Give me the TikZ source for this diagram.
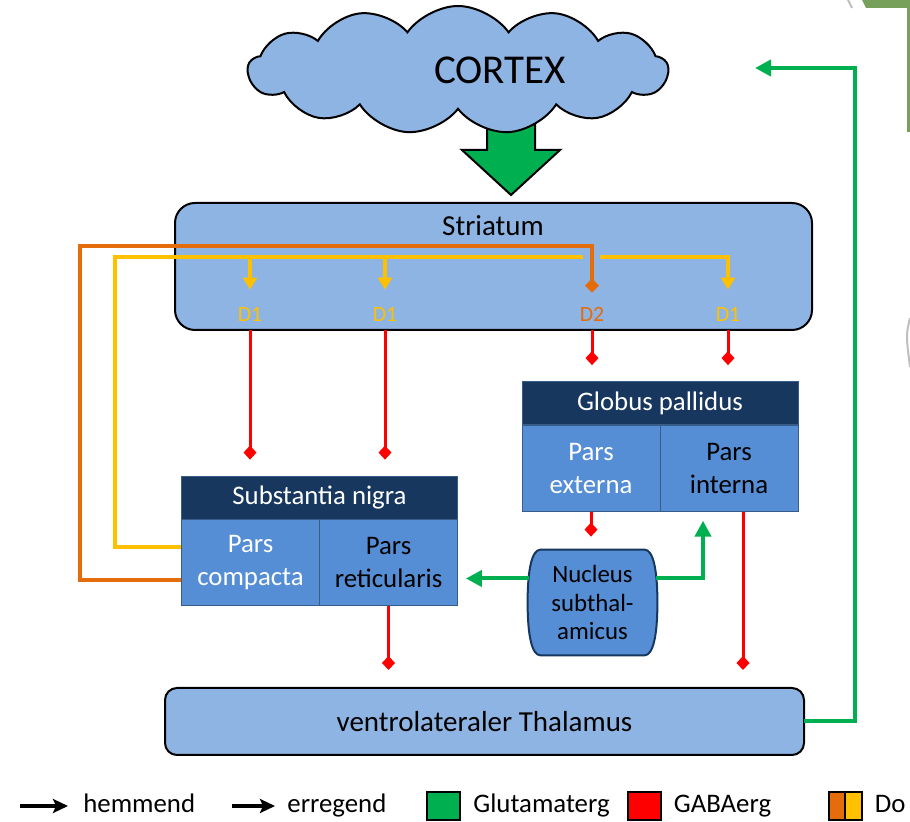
\documentclass[tikz,border=0pt]{standalone}
\usepackage{fontspec}
\setmainfont{Carlito}
\usetikzlibrary{positioning,calc,arrows.meta,shapes.symbols,backgrounds}

\definecolor{lightblue}{HTML}{8EB4E3}
\definecolor{midblue}{HTML}{558ED5}
\definecolor{navy}{HTML}{17375E}
\definecolor{boxedge}{HTML}{385D8A}
\definecolor{glugreen}{HTML}{00B050}
\definecolor{gabared}{HTML}{FF0000}
\definecolor{dopayellow}{HTML}{FFC000}
\definecolor{dopaorange}{HTML}{E46C0A}
\definecolor{slidegreen}{HTML}{77A05B}

\begin{document}
\begin{tikzpicture}[
        x=0.5pt, y=-0.5pt,
        cortexcloud/.style={
            cloud, 
            cloud puffs=13, 
            cloud puff arc=110, 
            cloud ignores aspect, 
            draw=black, 
            line width=1pt, 
            fill=lightblue, 
            minimum width=210pt, 
            minimum height=64pt
        },
        region/.style={
            rectangle, 
            draw=black, 
            line width=1pt, 
            fill=lightblue, 
            inner sep=0pt, 
            outer sep=0pt
        },
        header/.style={
            rectangle, 
            draw=boxedge, 
            fill=navy, 
            text=white, 
            minimum width=138pt, 
            minimum height=21.5pt, 
            inner sep=0pt, 
            font=\fontsize{13.4}{16}\selectfont
        },
        cell/.style={
            rectangle, 
            draw=boxedge, 
            fill=midblue, 
            minimum width=69pt, 
            minimum height=43pt, 
            inner sep=0pt, 
            align=center, 
            font=\fontsize{13.4}{16.5}\selectfont
        },
        nucleus/.style={
            rectangle, 
            minimum width=64.5pt, 
            minimum height=52.5pt, 
            inner sep=0pt, 
            align=center, 
            font=\fontsize{12.4}{14.2}\selectfont
        },
        dlabel/.style={
            inner sep=0pt, 
            font=\fontsize{10.9}{12}\selectfont
        },
        bigtext/.style={
            inner sep=0pt, 
            font=\fontsize{14.5}{17}\selectfont
        },
        legtext/.style={
            inner sep=0pt, 
            anchor=west, 
            text height=9pt, 
            text depth=2.5pt, 
            font=\fontsize{13.4}{16}\selectfont
        },
        swatch/.style={
            rectangle, 
            draw=black, 
            line width=1pt, 
            minimum width=16.5pt, 
            minimum height=14pt, 
            inner sep=0pt
        },
        gabaline/.style={
            -{Diamond[length=7pt,width=6.5pt]}, 
            draw=gabared, 
            line width=1.5pt, 
            shorten >=8pt
        },
        gluline/.style={
            -{Triangle[length=8pt,width=8pt]}, 
            draw=glugreen, 
            line width=2pt
        },
        dopaline/.style={
            line width=2pt
        },
        legarrow/.style={
            -{Stealth[length=7.5pt,width=7pt,inset=1.5pt]}, 
            draw=black, 
            line width=2pt
        }
    ]

    \useasboundingbox (0,0) rectangle (910,822);

    % --- Slide edge ---
    \fill[slidegreen] (862,0) -- (910,0) -- (910,132) -- (907,132) -- (907,8) -- (866,8) -- cycle;
    \draw[gray!50, line width=1pt] (848,0) -- (852,8);
    \draw[gray!50, line width=1pt] (910,318) .. controls (906,335) .. (910,367);

    % --- Cortex ---
    \draw[black, line width=1pt, fill=glugreen] (487,110) -- (487,150) -- (462,150) -- (511,195) -- (560,150) -- (535,150) -- (535,110);
    \node[cortexcloud] (cortex) at (458,70) {};
    \node[inner sep=0pt, font=\fontsize{20.5}{24}\selectfont] (cortexlabel) at (500,70) {CORTEX};

    % --- Striatum ---
    \node[region, rounded corners=10pt, minimum width=318.5pt, minimum height=63.5pt] (striatum) at (493.5,266.5) {};
    \node[bigtext] (striatumlabel) at (493,226) {Striatum};
    \node[dlabel, text=dopayellow] (d1a) at (250,314) {D1};
    \node[dlabel, text=dopayellow] (d1b) at (385,314) {D1};
    \node[dlabel, text=dopaorange] (d2) at (592,314) {D2};
    \node[dlabel, text=dopayellow] (d1c) at (728,314) {D1};

    % --- Substantia nigra ---
    \node[header] (snhead) at (319.5,497.5) {Substantia nigra};
    \node[cell, text=white, anchor=north west] (sncomp) at (snhead.south west) {Pars\\compacta};
    \node[cell, anchor=north east] (snret) at (snhead.south east) {Pars\\reticularis};

    % --- Globus pallidus ---
    \node[header] (gphead) at (660,403) {Globus pallidus};
    \node[cell, text=white, anchor=north west] (gpext) at (gphead.south west) {Pars\\externa};
    \node[cell, anchor=north east] (gpint) at (gphead.south east) {Pars\\interna};

    \node[nucleus] (stn) at (592.5,602.5) {Nucleus\\subthal-\\amicus};
    \begin{scope}[on background layer]
        \draw[navy, line width=1pt, fill=midblue] ($(stn.north west)+(13,0)$) -- ($(stn.north east)+(-13,0)$)
            .. controls +(9,0) and +(0,-32) .. (stn.east)
            .. controls +(0,32) and +(9,0) .. ($(stn.south east)+(-13,0)$)
            -- ($(stn.south west)+(13,0)$)
            .. controls +(-9,0) and +(0,32) .. (stn.west)
            .. controls +(0,-32) and +(-9,0) .. cycle;
    \end{scope}

    % --- Thalamus ---
    \node[region, rounded corners=6pt, minimum width=319.5pt, minimum height=33.5pt, font=\fontsize{14.5}{17}\selectfont] (thal) at (484.5,721.5) {ventrolateraler Thalamus};

    % Dopamine paths
    \coordinate (otop) at (80,246);
    \coordinate (ytop) at (115,257);
    \draw[dopaline, dopaorange, -{Diamond[length=7pt,width=7pt]}, shorten >=7pt] ($(sncomp.west)+(0,-8.5pt)$) -| (otop) -| (d2.north);
    \draw[dopaline, dopayellow] ($(sncomp.west)+(0,8pt)$) -| (ytop) -- ($(d2 |- ytop)+(-9,0)$);
    \draw[dopaline, dopayellow, -{Triangle[length=6pt,width=7pt]}, shorten >=8.5pt] ($(d2 |- ytop)+(8,0)$) -| (d1c.north);
    \draw[dopaline, dopayellow, -{Triangle[length=6pt,width=7pt]}, shorten >=8.5pt] (d1a |- ytop) -- (d1a.north);
    \draw[dopaline, dopayellow, -{Triangle[length=6pt,width=7pt]}, shorten >=8.5pt] (d1b |- ytop) -- (d1b.north);

    % GABAergic paths
    \draw[gabaline] (d1a |- striatum.south) -- (d1a |- snhead.north);
    \draw[gabaline] (d1b |- striatum.south) -- (d1b |- snhead.north);
    \draw[gabaline] (d2 |- striatum.south) -- (d2 |- gphead.north);
    \draw[gabaline] (d1c |- striatum.south) -- (d1c |- gphead.north);
    \draw[gabaline, shorten >=6.5pt] (gpext.south) -- (gpext.south |- stn.north);
    \draw[gabaline, shorten >=9pt] (snret.south) -- (snret.south |- thal.north);
    \coordinate (gpintout) at ($(gpint.south)+(7pt,0)$);
    \draw[gabaline, shorten >=9pt] (gpintout) -- (gpintout |- thal.north);

    % Glutamatergic paths
    \coordinate (stnl) at ($(stn.west)+(1,-24)$);
    \coordinate (stnr) at ($(stn.east)+(-1,-24)$);
    \draw[gluline, shorten >=4pt] (stnl) -- (stnl -| snret.east);
    \draw[gluline] (stnr) -| ($(gpint.south)+(-13pt,-4.5pt)$);
    \coordinate (gcorner) at (855,68);
    \coordinate (cortexin) at (755,68);
    \draw[gluline] (thal.east) -| (gcorner) -- (cortexin);

    % --- Legend ---
    \node[legtext] (hem) at (83,806) {hemmend};
    \draw[legarrow] ($(hem.west)+(-31.5pt,0)$) -- ($(hem.west)+(-7.5pt,0)$);
    \node[legtext] (err) at (287,806) {erregend};
    \draw[legarrow] ($(err.west)+(-27.5pt,0)$) -- ($(err.west)+(-6pt,0)$);
    \node[swatch, fill=glugreen] (sglu) at (443.5,806) {};
    \node[legtext, right=6pt of sglu] (glu) {Glutamaterg};
    \node[swatch, fill=gabared] (sgaba) at (644,806) {};
    \node[legtext, right=6pt of sgaba] (gaba) {GABAerg};
    \node[swatch, fill=dopayellow, path picture={
        \fill[dopaorange] (path picture bounding box.north west) rectangle (path picture bounding box.south);
    }] (sdopa) at (845,806) {};
    \draw[black, line width=1pt] (sdopa.north) -- (sdopa.south);
    \node[legtext, right=6pt of sdopa] (dopa) {Do};

\end{tikzpicture}
\end{document}
